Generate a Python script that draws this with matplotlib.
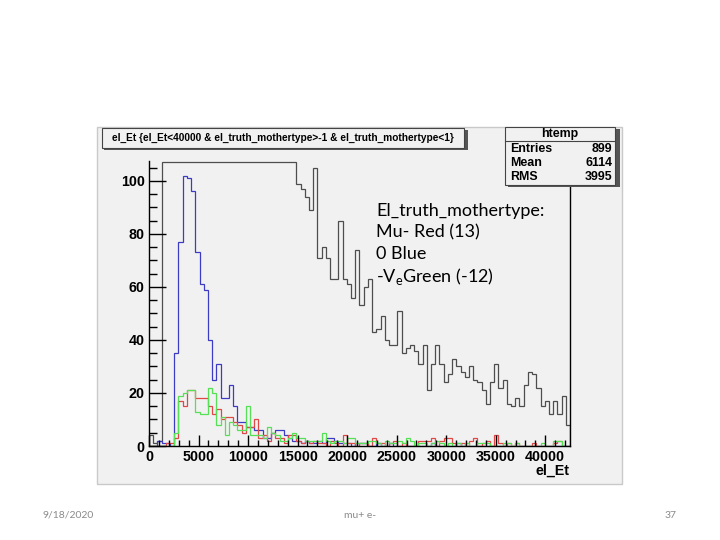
import numpy as np
import matplotlib
matplotlib.use("Agg")
import matplotlib.pyplot as plt
from matplotlib.patches import Rectangle
from matplotlib.ticker import MultipleLocator

plt.rcParams['mathtext.fontset'] = 'custom'
plt.rcParams['mathtext.rm'] = 'Lato'

# histogram binning (ROOT htemp: 100 bins)
x_lo, x_hi, n_bins = 0, 42500, 100

# bin contents (black is off scale below ~15000)
black = [4, 1, 2, 140, 260, 390, 480, 520, 510, 470, 430, 390, 350, 320, 290, 260,
         240, 220, 200, 190, 175, 165, 155, 150, 140, 135, 128, 124, 120, 117, 114, 112,
         111, 110, 109, 99, 97, 94, 89, 105, 71, 75, 71, 63, 63, 85, 63, 61,
         56, 74, 53, 60, 63, 43, 44, 49, 40, 38, 38, 51, 35, 37, 38, 36,
         31, 38, 21, 31, 38, 31, 24, 27, 33, 30, 28, 26, 30, 25, 24, 21,
         16, 24, 31, 22, 25, 16, 15, 18, 15, 23, 28, 27, 22, 15, 17, 12,
         17, 12, 19, 8]
blue = [0, 0, 2, 1, 1, 0, 35, 77, 102, 101, 96, 73, 61, 59, 40, 25,
        31, 18, 18, 23, 15, 9, 9, 7, 7, 6, 6, 3, 3, 5, 6, 6,
        4, 3, 2, 2, 1, 2, 1, 1, 2, 1, 3, 3, 2, 1, 1, 1,
        0, 1, 1, 1, 0, 0, 1, 0, 0, 1, 0, 0, 0, 0, 0, 0,
        0, 0, 0, 1, 0, 0, 0, 0, 0, 1, 0, 0, 0, 0, 0, 0,
        0, 0, 0, 0, 0, 0, 0, 0, 0, 0, 0, 0, 0, 0, 0, 0,
        0, 0, 0, 0]
red = [0, 0, 0, 0, 1, 1, 3, 17, 15, 21, 21, 18, 18, 18, 15, 12,
       14, 10, 11, 11, 9, 8, 5, 7, 7, 10, 3, 4, 2, 5, 3, 3,
       1, 4, 4, 2, 1, 2, 1, 2, 1, 1, 0, 2, 1, 0, 4, 1,
       1, 0, 1, 1, 0, 3, 1, 1, 0, 1, 2, 0, 1, 0, 0, 0,
       2, 2, 2, 3, 0, 2, 3, 3, 1, 0, 1, 0, 2, 3, 0, 1,
       2, 0, 4, 1, 0, 1, 0, 1, 0, 0, 0, 1, 0, 0, 0, 0,
       1, 2, 0, 0]
green = [0, 0, 0, 0, 0, 0, 5, 19, 20, 21, 21, 13, 12, 12, 22, 20,
         8, 11, 4, 9, 8, 6, 6, 15, 4, 4, 4, 3, 7, 5, 4, 2,
         2, 3, 5, 3, 3, 2, 2, 2, 2, 5, 2, 1, 2, 2, 1, 3,
         3, 1, 1, 1, 2, 2, 1, 0, 2, 1, 1, 2, 1, 3, 2, 0,
         1, 1, 0, 1, 2, 1, 0, 1, 0, 1, 0, 1, 0, 0, 1, 1,
         1, 0, 0, 0, 1, 1, 0, 1, 0, 0, 0, 0, 0, 1, 0, 0,
         2, 2, 0, 0]

title_text = "el_Et {el_Et<40000 & el_truth_mothertype>-1 & el_truth_mothertype<1}"
stats_name = "htemp"
stats_rows = [("Entries", "899"), ("Mean", "6114"), ("RMS", "3995")]
note_lines = ["El_truth_mothertype:", "Mu- Red (13)", "0 Blue", r"-V$_{\mathrm{e}}$Green (-12)"]
x_label = "el_Et"
footer_date, footer_mid, footer_page = "9/18/2020", "mu+ e-", "37"

W, H = 720, 540
y_top = 107.5
bg = '#f1f1f1'


def fx(x):
    return x / W


def fy(y):
    return 1 - y / H


fig = plt.figure(figsize=(7.2, 5.4), dpi=100)
fig.patch.set_facecolor('white')

# ROOT canvas area
fig.patches.append(Rectangle((fx(97), fy(484)), fx(622) - fx(97), fy(127) - fy(484),
                             transform=fig.transFigure, facecolor=bg,
                             edgecolor='#c9c9c9', lw=1, zorder=-10))

ax = fig.add_axes([fx(149), fy(446), fx(570) - fx(149), fy(161) - fy(446)])
ax.set_facecolor(bg)
edges = np.linspace(x_lo, x_hi, n_bins + 1)
ax.stairs(np.minimum(black, y_top - 0.3), edges, color='#4d4d4d', lw=0.9)
ax.stairs(blue, edges, color='#3b3bc4', lw=0.9)
ax.stairs(red, edges, color='#e04848', lw=0.9)
ax.stairs(green, edges, color='#55e055', lw=0.9)
ax.set_xlim(x_lo, x_hi)
ax.set_ylim(0, y_top)

for s in ['left', 'bottom', 'right']:
    ax.spines[s].set_color('black')
    ax.spines[s].set_linewidth(1)
ax.spines['top'].set_visible(False)

ax.xaxis.set_major_locator(MultipleLocator(5000))
ax.xaxis.set_minor_locator(MultipleLocator(1000))
ax.yaxis.set_major_locator(MultipleLocator(20))
ax.yaxis.set_minor_locator(MultipleLocator(5))
ax.tick_params(axis='x', which='major', direction='in', length=8, width=1, pad=3)
ax.tick_params(axis='x', which='minor', direction='in', length=4, width=1)
ax.tick_params(axis='y', which='major', direction='in', length=12, width=1, pad=3)
ax.tick_params(axis='y', which='minor', direction='in', length=6, width=1)
for lab in ax.get_xticklabels() + ax.get_yticklabels():
    lab.set_fontfamily('Liberation Sans')
    lab.set_fontweight('bold')
    lab.set_fontsize(10.3)

fig.text(fx(570), fy(471), x_label, ha='right', va='center', fontsize=10.3,
         fontweight='bold', family='Liberation Sans')

# title box with shadow
fig.patches.append(Rectangle((fx(104), fy(150)), fx(466) - fx(102), fy(128) - fy(148),
                             transform=fig.transFigure, facecolor='#555555',
                             edgecolor='none', zorder=3))
fig.patches.append(Rectangle((fx(102), fy(148)), fx(464) - fx(102), fy(128) - fy(148),
                             transform=fig.transFigure, facecolor=bg,
                             edgecolor='#444444', lw=0.8, zorder=4))
fig.text(fx(283), fy(138), title_text, ha='center', va='center', fontsize=7.3,
         fontweight='bold', family='Liberation Sans', zorder=5)

# stats box with shadow
fig.patches.append(Rectangle((fx(508), fy(187)), fx(617) - fx(505), fy(127) - fy(185),
                             transform=fig.transFigure, facecolor='#555555',
                             edgecolor='none', zorder=3))
fig.patches.append(Rectangle((fx(505), fy(185)), fx(615) - fx(505), fy(127) - fy(185),
                             transform=fig.transFigure, facecolor=bg,
                             edgecolor='#444444', lw=0.8, zorder=4))
fig.lines.append(plt.Line2D([fx(505), fx(615)], [fy(141), fy(141)],
                            transform=fig.transFigure, color='#444444', lw=0.8, zorder=5))
fig.text(fx(560), fy(134), stats_name, ha='center', va='center', fontsize=8.9,
         fontweight='bold', family='Liberation Sans', zorder=6)
for i, (k, v) in enumerate(stats_rows):
    yy = fy(149 + 14 * i)
    fig.text(fx(510), yy, k, ha='left', va='center', fontsize=8.9,
             fontweight='bold', family='Liberation Sans', zorder=6)
    fig.text(fx(612), yy, v, ha='right', va='center', fontsize=8.9,
             fontweight='bold', family='Liberation Sans', zorder=6)

# slide annotation
for i, line in enumerate(note_lines):
    fig.text(fx(376), fy(211 + 21.7 * i), line, ha='left', va='center',
             fontsize=13, family='Lato', color='black', zorder=6)

# slide footer
fig.text(fx(68), fy(515), footer_date, ha='center', va='center', fontsize=7.5,
         family='Lato', color='#8a8a8a')
fig.text(fx(360), fy(515), footer_mid, ha='center', va='center', fontsize=7.5,
         family='Lato', color='#8a8a8a')
fig.text(fx(677), fy(515), footer_page, ha='right', va='center', fontsize=7.5,
         family='Lato', color='#8a8a8a')

fig.savefig("out.png", dpi=100, facecolor='white')
